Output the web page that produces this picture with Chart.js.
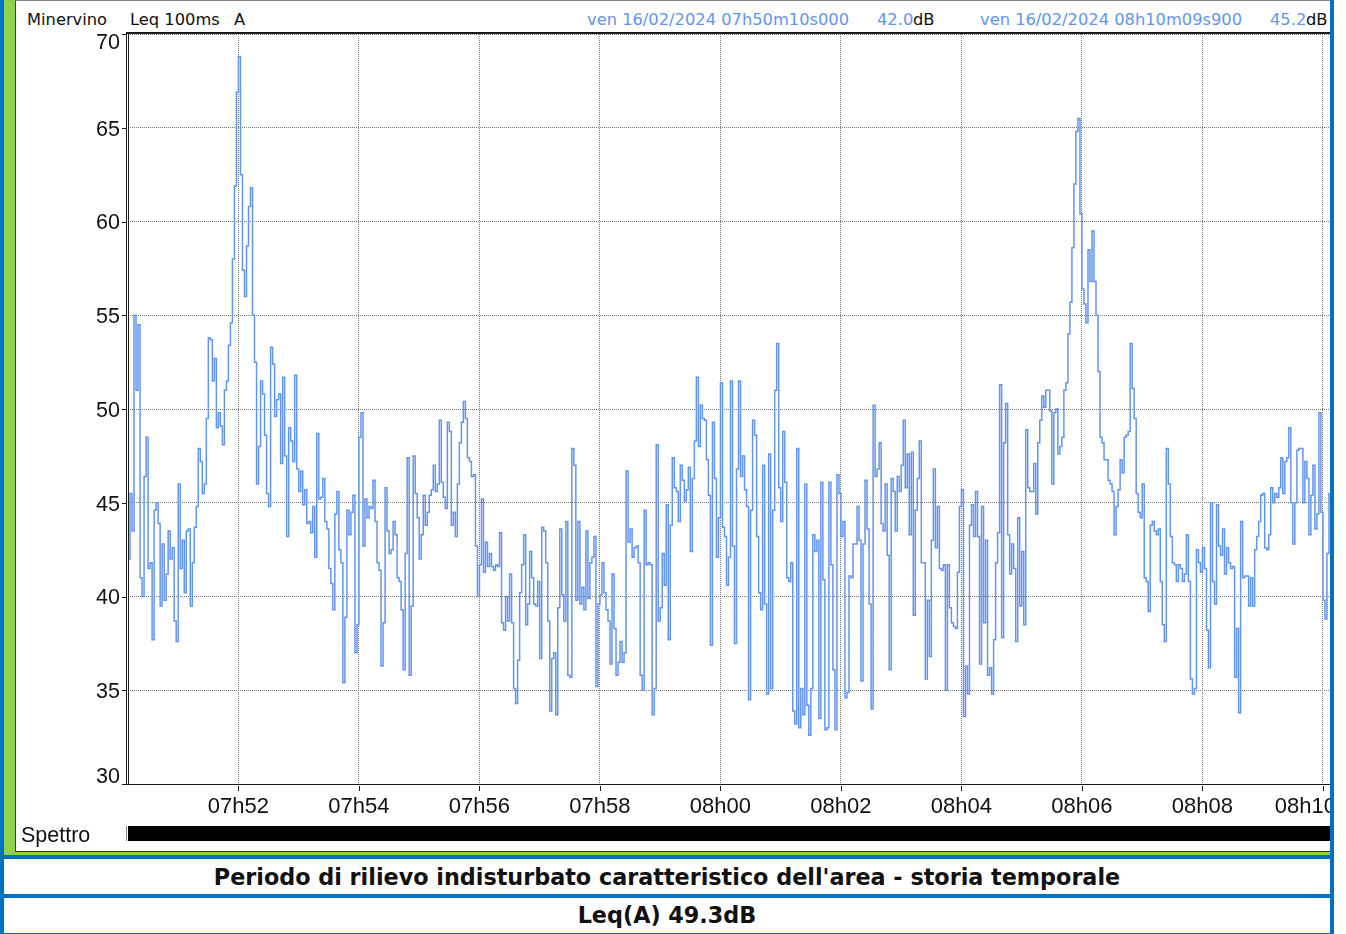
<!DOCTYPE html>
<html lang="it">
<head>
<meta charset="utf-8">
<title>Minervino - Leq 100ms A</title>
<script src="https://cdn.jsdelivr.net/npm/chart.js@4.4.1/dist/chart.umd.min.js"></script>
<style>
  html, body { margin: 0; padding: 0; background: #fff; }
  body { position: relative; width: 1346px; height: 934px; overflow: hidden; }
  .abs { position: absolute; box-sizing: border-box; }
  .hdr { position: absolute; top: 10px; font: 16.3px/19px "DejaVu Sans", Verdana, sans-serif; color: #111; white-space: nowrap; }
  .blu { color: #6495ED; }
  .titolo { position: absolute; left: 4px; width: 1326px; display: flex; align-items: center; justify-content: center;
            font: bold 22.3px "DejaVu Sans", Verdana, sans-serif; color: #111; background: #fff; }
</style>
</head>
<body>
<!-- cornice verde / blu -->
<div class="abs" style="left:0;top:0;width:4px;height:934px;background:#0070C0"></div>
<div class="abs" style="left:4px;top:0;width:11px;height:855px;background:#92D050"></div>
<div class="abs" style="left:15px;top:0;width:1315px;height:852px;background:#fff;border-left:1.5px solid #444;border-top:1px solid #888;border-bottom:1px solid #333"></div>

<!-- intestazione -->
<div class="hdr" style="left:27px">Minervino</div>
<div class="hdr" style="left:130px">Leq 100ms</div>
<div class="hdr" style="left:234px">A</div>
<div class="hdr blu" style="left:587px">ven 16/02/2024 07h50m10s000</div>
<div class="hdr blu" style="left:877px">42.0</div>
<div class="hdr" style="left:913px">dB</div>
<div class="hdr blu" style="left:980px">ven 16/02/2024 08h10m09s900</div>
<div class="hdr blu" style="left:1270px">45.2</div>
<div class="hdr" style="left:1306px">dB</div>

<canvas id="grafico" width="1346" height="852" style="position:absolute;left:0;top:0"></canvas>

<!-- riga spettro -->
<div class="abs" style="left:21px;top:825px;font:21.5px/21px 'Liberation Sans', Arial, sans-serif;color:#111">Spettro</div>
<div class="abs" style="left:126px;top:826px;width:1px;height:15px;background:#888"></div>
<div class="abs" style="left:128px;top:826px;width:1202px;height:15px;background:#000"></div>

<!-- bordi e titoli -->
<div class="abs" style="left:1330px;top:0;width:4px;height:934px;background:#0070C0"></div>
<div class="abs" style="left:1334px;top:0;width:12px;height:934px;background:#fff"></div>
<div class="abs" style="left:4px;top:852px;width:1326px;height:3px;background:#92D050"></div>
<div class="abs" style="left:0;top:855px;width:1334px;height:4px;background:#0070C0"></div>
<div class="titolo" style="top:859px;height:35px">Periodo di rilievo indisturbato caratteristico dell'area - storia temporale</div>
<div class="abs" style="left:0;top:894px;width:1334px;height:3.5px;background:#0070C0"></div>
<div class="titolo" style="top:897.5px;height:35.5px">Leq(A) 49.3dB</div>
<div class="abs" style="left:0;top:933px;width:1334px;height:1px;background:#0070C0"></div>

<script>
// Leq 100ms ponderato A, un valore ogni 2 s a partire da 07h50m10s (secondi dall'inizio)
const stepSeconds = 2;

// 07h50m10s - 07h53m30s
const seg1 = [42.0, 45.5, 43.5, 55, 51, 54.5, 41, 40, 46.4, 48.5,
  41.5, 41.8, 37.7, 44.6, 45, 43.9, 39.5, 42.8, 39.8, 41.2,
  43.5, 42, 42.6, 38.7, 37.6, 46, 41.5, 43, 40.2, 43.5,
  43.6, 39.5, 41.8, 43.7, 44.8, 47.9, 47.2, 45.5, 46, 49.5,
  53.8, 53.7, 51.5, 52.7, 49, 49.8, 49.1, 48.1, 51, 51.5,
  53.4, 54.6, 58, 61.9, 66.9, 68.8, 62.5, 57.4, 56, 58.7,
  60.8, 61.8, 55, 52.5, 46, 48, 51.5, 50.8, 48.6, 45.5,
  44.8, 53.3, 52.4, 49.6, 50.5, 50.8, 47.1, 51.7, 47.5, 43.2,
  49, 48.3, 47.2, 51.8, 46.8, 45.6, 46.7, 44.9, 45.7, 43.9,
  44, 43.4, 44.8, 42.1, 48.7, 45.2, 45.3, 46.3, 44, 43.6];

// 07h53m30s - 07h56m50s
const seg2 = [41.5, 40.7, 39.3, 44.4, 45.6, 42.5, 41.8, 35.4, 38.9, 44.6,
  43.3, 44.5, 45.4, 37, 38.5, 48.5, 49.8, 42.7, 45.2, 44.2,
  44.8, 44.7, 46.2, 44, 41.8, 41.4, 36.3, 38.6, 45.8, 43.5,
  42.3, 42.5, 44, 43.3, 41, 40.8, 39.3, 36.1, 42.3, 47.4,
  35.8, 39.5, 47.5, 45.5, 44.2, 42, 43.3, 45.4, 43.8, 44.5,
  45.4, 45.7, 47, 45.6, 46, 49.4, 46.1, 45.3, 44.7, 49.3,
  48.8, 43.8, 44.5, 43.2, 46, 48.2, 49.3, 50.4, 49.5, 47.4,
  47.2, 46.4, 46.5, 42.7, 40, 41.7, 45.2, 41.3, 42.9, 41.6,
  42.3, 41.6, 41.4, 41.7, 41.6, 43.4, 38.6, 38.2, 40, 38.7,
  41.2, 38.6, 35.1, 34.3, 36.6, 40.2, 41.7, 43.3, 38.5, 39.6];

// 07h56m50s - 08h00m10s
const seg3 = [42.4, 41, 39.6, 39.5, 40.8, 36.7, 43.7, 43.5, 41.8, 38.7,
  33.9, 36.7, 37, 33.7, 39.4, 43.6, 40.1, 38.7, 44, 35.8,
  35.7, 47.9, 47, 39.8, 44, 39.6, 40.5, 39.3, 43.5, 39.9,
  41.8, 42.1, 43.2, 35.2, 39.6, 40.1, 41.8, 40.2, 39.3, 38.7,
  36.4, 41.2, 38.3, 35.8, 36.5, 37.6, 36.5, 37, 46.7, 42.9,
  43.6, 42.1, 42.6, 42.7, 41.8, 35.8, 35, 44.6, 41.7, 41.8,
  41.7, 33.7, 35.1, 48.1, 38.7, 39.4, 42.3, 40.6, 44.9, 37.7,
  43.8, 47.4, 45.8, 45.6, 44, 47, 46.2, 45.1, 45.7, 46.9,
  42.4, 46.3, 48.3, 51.7, 48, 50.2, 49.5, 49.4, 47.3, 45.4,
  37.4, 49.3, 46.3, 42.1, 44.2, 51.4, 43.7, 43.2, 40.6, 42.1];

// 08h00m10s - 08h03m30s
const seg4 = [51.5, 42.7, 37.5, 46.8, 51.5, 46.4, 47.5, 45.7, 44.8, 34.5,
  44.6, 49.4, 48.6, 43.2, 40.2, 39.3, 47, 39.6, 34.8, 47.6,
  35.1, 44.6, 51, 53.5, 45.8, 44, 48.8, 46.1, 41, 40.8,
  41.8, 33.9, 33.2, 47.9, 33, 35.1, 33.7, 46, 34.2, 32.6,
  35.1, 43.3, 42.4, 43, 33.5, 46.1, 40.9, 32.9, 33, 46.1,
  41.7, 36.1, 32.9, 46.5, 45.5, 43.2, 44, 34.6, 34.9, 41.1,
  41, 42.8, 42.8, 44.8, 43, 35.5, 42.8, 46.2, 43.6, 39.6,
  34, 50.2, 46.4, 46.8, 48.2, 43.9, 43.5, 46, 42.2, 36.1,
  46.3, 45.6, 43.5, 46.4, 45.6, 47, 49.4, 45.8, 47.6, 43.3,
  47.7, 39, 44.6, 46.3, 48.3, 41.8, 41.8, 35.6, 39.8, 36.8];

// 08h03m30s - 08h06m50s
const seg5 = [43, 46.8, 42.6, 44.8, 41.5, 41.4, 41.7, 35, 41.7, 39.4,
  38.6, 38.4, 38.3, 41.3, 44.8, 45.7, 33.6, 36.3, 34.8, 43.8,
  44.9, 43.2, 45.6, 43.2, 36.4, 44.8, 38.6, 43, 35.8, 36.2,
  34.8, 37.7, 41.8, 43.4, 51.3, 37.8, 48.2, 50.3, 43.3, 41.2,
  42.8, 41.5, 37.6, 44.2, 39.5, 42.4, 38.5, 48.9, 45.8, 45.6,
  45.6, 47.1, 44.4, 48.2, 49.4, 50.7, 50.1, 51, 51, 49.9,
  46, 49.8, 50, 47.6, 48, 48.5, 51, 51.4, 54, 55.7,
  58.6, 62, 64.8, 65.5, 60.4, 56.4, 55.6, 54.6, 58.5, 56.8,
  59.5, 56.8, 55, 52, 48.5, 48.2, 47.3, 47.3, 46.2, 46,
  45.6, 43.3, 44.8, 45.7, 47.3, 46.6, 48.5, 48.6, 48.8, 53.5];

// 08h06m50s - 08h10m10s
const seg6 = [51.1, 49.5, 45.5, 44.5, 44.2, 46, 41, 40.8, 39.2, 43.8,
  44, 43.5, 43.3, 43.6, 40.8, 38.5, 37.6, 47.9, 46, 43.2,
  41.8, 41.7, 40.8, 41.7, 41.5, 40.8, 41.2, 43.3, 40.8, 35.6,
  34.8, 35.1, 42.5, 41.8, 41.3, 42.6, 41.5, 38.2, 36.2, 45,
  40.8, 39.6, 44.9, 42.7, 42.2, 43.6, 41.2, 42.6, 41.8, 41.5,
  41.6, 35.7, 38.3, 33.8, 44, 41, 41.1, 41.1, 39.5, 41,
  39.5, 42.5, 43.2, 44, 45.4, 45.5, 42.6, 42.5, 43.3, 45.8,
  45, 45.5, 45.3, 45.8, 47.4, 45.5, 47.2, 47.4, 49, 45,
  42.8, 45, 47.8, 47.9, 47.9, 45, 47.2, 46.3, 43.3, 45.4,
  47, 43.6, 44.4, 49.8, 44.5, 39.8, 38.8, 42.3, 45.5, 45.2];

// assi
const tickSeconds = [110, 230, 350, 470, 590, 710, 830, 950, 1070, 1190];
const tickLabels = ['07h52', '07h54', '07h56', '07h58', '08h00', '08h02', '08h04', '08h06', '08h08', '08h10'];
const yTicks = [30, 35, 40, 45, 50, 55, 60, 65, 70];

const livelli = [].concat(seg1, seg2, seg3, seg4, seg5, seg6);
const punti = livelli.map((v, i) => ({ x: i * stepSeconds, y: v }));

// cornice del grafico, tacche ed etichette degli assi
const cornicePlugin = {
    id: 'cornice',
    afterDraw(chart) {
        const { ctx, chartArea: a } = chart;
        const xs = chart.scales.x, ys = chart.scales.y;
        ctx.save();
        ctx.fillStyle = '#1a1a1a';
        ctx.fillRect(a.left - 2, a.top - 2, a.right - a.left + 2, 2);
        ctx.fillRect(a.left - 2, a.top - 2, 1, a.bottom - a.top + 3);
        ctx.fillRect(a.left, a.top, 1, a.bottom - a.top);
        ctx.fillRect(a.left - 2, a.bottom, a.right - a.left + 2, 1);

        ys.ticks.forEach(t => {
            const py = Math.round(ys.getPixelForValue(t.value));
            ctx.fillRect(a.left - 6, py, 4, 1);
        });
        xs.ticks.forEach(t => {
            const px = Math.round(xs.getPixelForValue(t.value));
            ctx.fillRect(px, a.bottom + 2, 1, 5);
        });

        ctx.font = '21.5px "Liberation Sans", Arial, sans-serif';
        ctx.fillStyle = '#111';
        ctx.textAlign = 'right';
        ctx.textBaseline = 'middle';
        ys.ticks.forEach(t => {
            let py = ys.getPixelForValue(t.value) + 2;
            py = Math.min(Math.max(py, a.top + 9.5), a.bottom - 6.5);
            ctx.fillText(String(t.value), a.left - 8, py);
        });

        // l'ultima etichetta viene spinta dentro il riquadro
        ctx.font = '22px "Liberation Sans", Arial, sans-serif';
        ctx.textAlign = 'center';
        ctx.textBaseline = 'alphabetic';
        xs.ticks.forEach((t, i) => {
            const txt = tickLabels[i];
            const w = ctx.measureText(txt).width;
            const px = Math.min(xs.getPixelForValue(t.value), a.right + 3 - w / 2);
            ctx.fillText(txt, px, a.bottom + 29);
        });
        ctx.restore();
    }
};

new Chart(document.getElementById('grafico'), {
    type: 'line',
    data: {
        datasets: [{
            data: punti,
            borderColor: '#6495ED',
            borderWidth: 1.5,
            pointRadius: 0,
            stepped: true,
            fill: false
        }]
    },
    options: {
        responsive: false,
        animation: false,
        devicePixelRatio: 1,
        layout: { padding: { top: 34, right: 13, bottom: 0, left: 0 } },
        plugins: {
            legend: { display: false },
            tooltip: { enabled: false }
        },
        scales: {
            x: {
                type: 'linear',
                min: 0,
                max: 1200,
                afterBuildTicks: s => { s.ticks = tickSeconds.map(v => ({ value: v })); },
                afterFit: s => { s.height = 68; s.paddingLeft = 0; s.paddingRight = 0; },
                grid: { color: '#777', lineWidth: 1, drawTicks: false },
                border: { display: false, dash: [1, 1] },
                ticks: { display: false }
            },
            y: {
                min: 30,
                max: 70,
                afterBuildTicks: s => { s.ticks = yTicks.map(v => ({ value: v })); },
                afterFit: s => { s.width = 128; s.paddingTop = 0; s.paddingBottom = 0; },
                grid: { color: '#777', lineWidth: 1, drawTicks: false },
                border: { display: false, dash: [1, 1] },
                ticks: { display: false }
            }
        }
    },
    plugins: [cornicePlugin]
});
</script>
</body>
</html>
